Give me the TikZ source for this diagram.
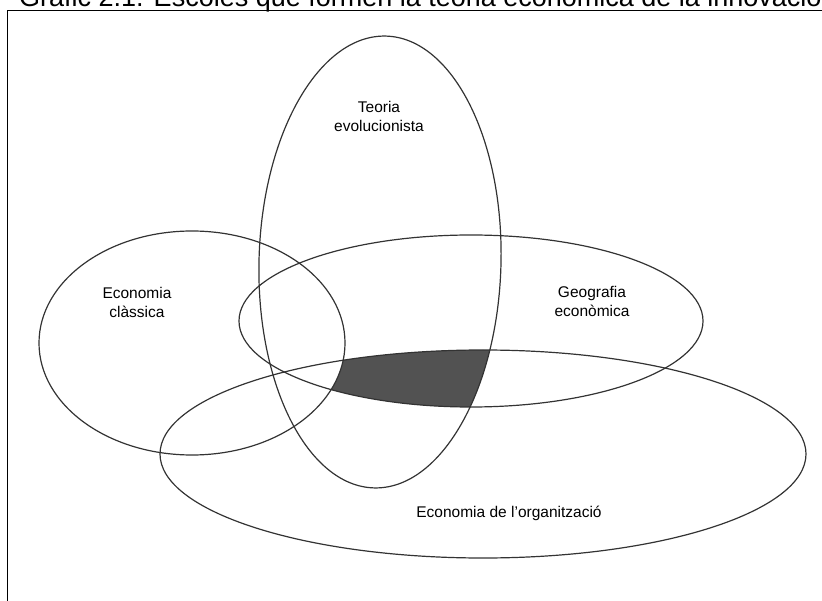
\documentclass[tikz,border=0pt]{standalone}
\usepackage{fontspec}
\setmainfont{Liberation Sans}
\begin{document}
\begin{tikzpicture}[x=1pt,y=-1pt,
  outline/.style={draw=black!80, line width=1.2pt},
  lbl/.style={align=center, inner sep=0pt, font=\fontsize{15.5}{19}\selectfont},
  shadefill/.style={fill=black!68},
  evolshape/.style={rotate around={-1.5:(380,262)}}]
\useasboundingbox (0,0) rectangle (822,601);
\clip (0,0) rectangle (822,601);
% shaded intersection
\begin{scope}
  \clip[evolshape] (380,262) ellipse (121 and 226);
  \clip (471,321) ellipse (232 and 86);
  \clip (483,454) ellipse (323 and 104);
  \fill[shadefill] (0,0) rectangle (822,601);
  \fill[white] (192,343) ellipse (153 and 112);
\end{scope}
% frame
\draw[line width=1.8pt] (7.5,640) -- (7.5,10.5) -- (860,10.5);
% title
\node[anchor=base west, inner sep=0pt, font=\fontsize{27}{30}\selectfont] (title) at (19,7) {Gràfic 2.1. Escoles que formen la teoria econòmica de la innovació};
% ellipses
\draw[outline, evolshape] (380,262) ellipse (121 and 226);
\draw[outline] (192,343) ellipse (153 and 112);
\draw[outline] (471,321) ellipse (232 and 86);
\draw[outline] (483,454) ellipse (323 and 104);
% labels
\node[lbl] (evol) at (379,116) {Teoria\\evolucionista};
\node[lbl] (classica) at (137,302) {Economia\\clàssica};
\node[lbl] (geo) at (592,301) {Geografia\\econòmica};
\node[lbl] (org) at (509,513) {Economia de l’organització};
\end{tikzpicture}
\end{document}
